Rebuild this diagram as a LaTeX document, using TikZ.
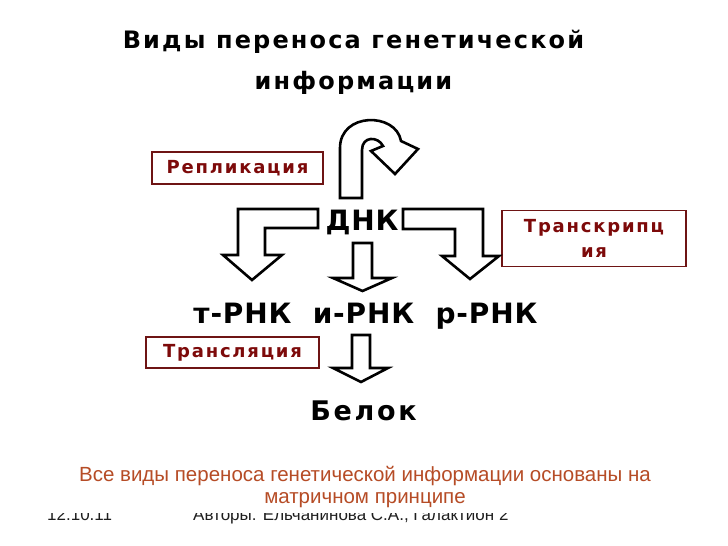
\documentclass[tikz,border=0pt]{standalone}
\usepackage{fontspec}
\setmainfont{Liberation Sans}
\newfontfamily\heavyfont{DejaVu Sans Bold}

\definecolor{boxred}{RGB}{110,20,20}
\definecolor{labelred}{RGB}{125,10,10}
\definecolor{noteorange}{RGB}{182,76,38}
\definecolor{footgray}{RGB}{30,30,30}

\begin{document}
\begin{tikzpicture}[x=1pt, y=-1pt,
    hollow/.style={draw=black, line width=2.6pt, fill=white, line join=miter},
    stepname/.style={draw=boxred, line width=1.6pt, fill=white, text=labelred, inner sep=0pt, align=center,
        font=\heavyfont\fontsize{18}{25}\selectfont\addfontfeature{LetterSpace=10}},
    mol/.style={inner sep=0pt, font=\heavyfont\fontsize{28}{30}\selectfont\addfontfeature{LetterSpace=3}}]
    \useasboundingbox (0,0) rectangle (728,546);

    % Title
    \node[align=center, font=\heavyfont\fontsize{24}{41}\selectfont\addfontfeature{LetterSpace=9}] (title) at (353.5,62) {Виды переноса генетической\\информации};

    % Molecules
    \node[mol] (dnk) at (362,222) {ДНК};
    \node[mol, anchor=base] (trna) at (242.5,323) {т-РНК};
    \node[mol, anchor=base] (mrna) at (363.5,323) {и-РНК};
    \node[mol, anchor=base] (rrna) at (486.5,323) {р-РНК};
    \node[mol, anchor=base, font=\heavyfont\fontsize{27}{30}\selectfont\addfontfeature{LetterSpace=10}] (protein) at (363.5,420) {Белок};

    % Process labels
    \node[stepname, minimum width=171, minimum height=32] (replic) at (237.5,168) {Репликация};
    \node[stepname, minimum width=184, minimum height=56] (transcr) at (594,238.5) {Транскрипц\\ия};
    \node[stepname, minimum width=173, minimum height=31] (transl) at (232.5,352.5) {Трансляция};

    % Hollow arrows
    \draw[hollow] (340,198) -- (340,148) .. controls (340,112) and (396,112) .. (401,141) -- (418,149) -- (395,174) -- (371,151) -- (383,146) .. controls (378,136) and (362,136) .. (362,150) -- (362,198) -- cycle;
    \draw[hollow] (318,209) -- (238,209) -- (238,255) -- (223,255) -- (252,280) -- (282,255) -- (265,255) -- (265,228) -- (318,228) -- cycle;
    \draw[hollow] (403,209) -- (483,209) -- (483,256) -- (499,256) -- (470,279) -- (442,256) -- (455,256) -- (455,229) -- (403,229) -- cycle;
    \draw[hollow] (353,243) -- (372,243) -- (372,278) -- (392,278) -- (362.5,291) -- (333,278) -- (353,278) -- cycle;
    \draw[hollow] (352,335) -- (370,335) -- (370,368) -- (388,368) -- (361,382) -- (333,368) -- (352,368) -- cycle;

    % Footer and note
    \node[anchor=base west, inner sep=0pt, text=footgray, font=\fontsize{17}{20}\selectfont] (date) at (47,520) {12.10.11};
    \node[anchor=base west, inner sep=0pt, text=footgray, font=\fontsize{17}{20}\selectfont] (authors) at (193,520) {Авторы: Ельчанинова С.А., Галактион 2};
    \node[anchor=south, fill=white, inner sep=0pt, minimum width=640, minimum height=52, align=center, text=noteorange, font=\fontsize{20.5}{22}\selectfont] (note) at (365,513) {Все виды переноса генетической информации основаны на\\матричном принципе};
\end{tikzpicture}
\end{document}
